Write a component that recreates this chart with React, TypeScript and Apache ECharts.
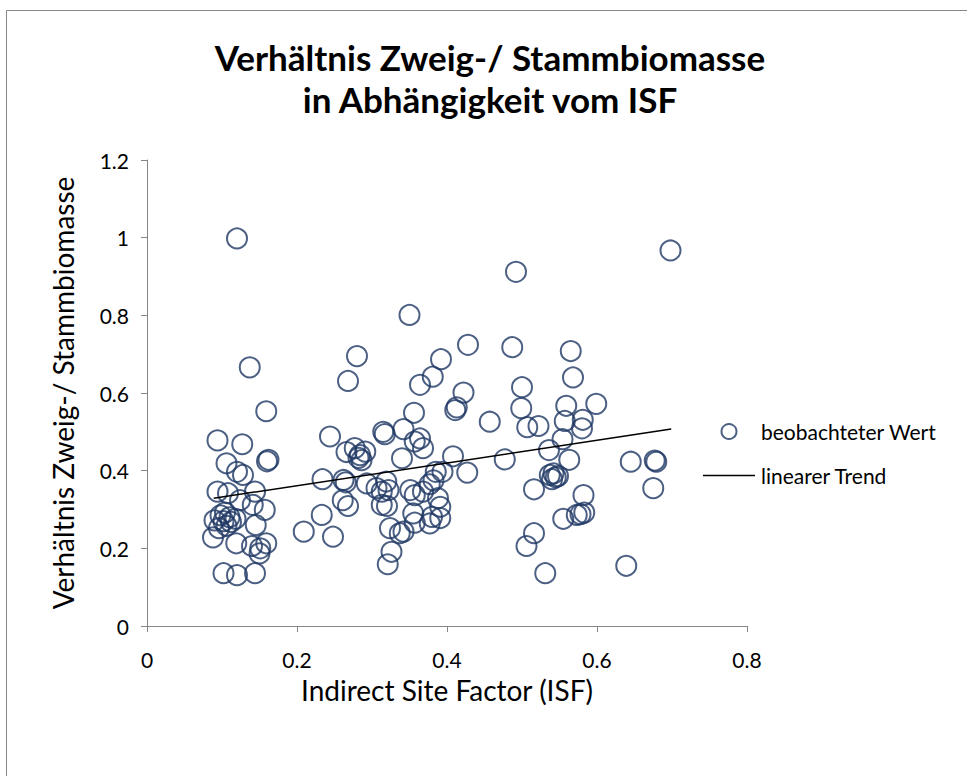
import React, { useEffect, useRef } from "react";
import * as echarts from "echarts";

const chartTitle = "Verhältnis Zweig-/ Stammbiomasse\nin Abhängigkeit vom ISF";
const xAxisName = "Indirect Site Factor (ISF)";
const yAxisName = "Verhältnis Zweig-/ Stammbiomasse";
const seriesNames = ["beobachteter Wert", "linearer Trend"];

const isfValues = [
  0.120, 0.137, 0.159, 0.094, 0.127, 0.106, 0.160, 0.162, 0.120, 0.128,
  0.094, 0.108, 0.144, 0.124, 0.141, 0.157, 0.098, 0.104, 0.110, 0.102,
  0.112, 0.118, 0.106, 0.090, 0.145, 0.088, 0.119, 0.140, 0.151, 0.159,
  0.150, 0.102, 0.120, 0.144, 0.096,
  0.209, 0.233, 0.234, 0.244, 0.248, 0.262, 0.265, 0.261, 0.268, 0.268,
  0.280, 0.266, 0.277, 0.284, 0.291, 0.286, 0.282, 0.293, 0.306, 0.319,
  0.313, 0.322, 0.313, 0.320, 0.315, 0.317, 0.342, 0.324, 0.342, 0.337,
  0.326, 0.321, 0.350, 0.356, 0.364, 0.340, 0.357, 0.364, 0.368, 0.351,
  0.357, 0.368, 0.377, 0.382, 0.385, 0.388, 0.391, 0.355, 0.357, 0.377,
  0.380, 0.381, 0.392, 0.394, 0.391,
  0.408, 0.411, 0.413, 0.422, 0.428, 0.427, 0.457, 0.477, 0.487, 0.492,
  0.499, 0.500, 0.507, 0.522, 0.516, 0.516, 0.506, 0.531, 0.536, 0.537,
  0.542, 0.545, 0.548, 0.540, 0.554, 0.563, 0.557, 0.559, 0.565, 0.568,
  0.555, 0.573, 0.578, 0.583, 0.582, 0.581, 0.580, 0.599, 0.639, 0.645,
  0.677, 0.679, 0.675, 0.698,
];

const ratioValues = [
  0.998, 0.666, 0.553, 0.478, 0.468, 0.419, 0.424, 0.428, 0.397, 0.389,
  0.346, 0.342, 0.346, 0.324, 0.312, 0.299, 0.285, 0.292, 0.280, 0.270,
  0.268, 0.276, 0.258, 0.272, 0.260, 0.228, 0.213, 0.206, 0.200, 0.213,
  0.187, 0.136, 0.131, 0.136, 0.252,
  0.243, 0.286, 0.378, 0.488, 0.230, 0.376, 0.370, 0.324, 0.309, 0.631,
  0.695, 0.448, 0.458, 0.440, 0.449, 0.427, 0.433, 0.367, 0.355, 0.372,
  0.346, 0.350, 0.312, 0.309, 0.500, 0.494, 0.507, 0.252, 0.243, 0.239,
  0.191, 0.159, 0.801, 0.549, 0.621, 0.432, 0.475, 0.483, 0.458, 0.350,
  0.337, 0.346, 0.365, 0.375, 0.397, 0.329, 0.307, 0.290, 0.266, 0.264,
  0.281, 0.642, 0.687, 0.397, 0.278,
  0.437, 0.556, 0.563, 0.601, 0.724, 0.395, 0.526, 0.429, 0.718, 0.912,
  0.561, 0.615, 0.512, 0.515, 0.352, 0.239, 0.206, 0.136, 0.453, 0.389,
  0.393, 0.383, 0.386, 0.378, 0.481, 0.428, 0.528, 0.567, 0.708, 0.640,
  0.276, 0.286, 0.288, 0.292, 0.337, 0.531, 0.509, 0.572, 0.155, 0.423,
  0.426, 0.423, 0.355, 0.967,
];

const trendX = [0.089, 0.699];
const trendY = [0.329, 0.507];

const FONT = "Lato";
const MARKER = "#1F3864";
const AXIS_GRAY = "#868686";

export default function App() {
  const ref = useRef<HTMLDivElement>(null);

  useEffect(() => {
    if (!ref.current) return;
    const chart = echarts.init(ref.current, undefined, { renderer: "svg" });
    const points = isfValues.map((x, i) => [x, ratioValues[i]]);
    const trend = trendX.map((x, i) => [x, trendY[i]]);
    chart.setOption({
      animation: false,
      backgroundColor: "#ffffff",
      textStyle: { fontFamily: FONT },
      title: {
        text: chartTitle,
        left: 490,
        textAlign: "center",
        top: 36,
        padding: 0,
        textStyle: {
          fontFamily: FONT,
          fontWeight: "bold",
          fontSize: 35,
          lineHeight: 42,
          color: "#000",
        },
      },
      graphic: [
        {
          type: "rect",
          shape: { x: 6.5, y: 10.5, width: 2000, height: 2000 },
          style: { fill: "none", stroke: AXIS_GRAY, lineWidth: 1 },
          silent: true,
        },
      ],
      grid: { left: 147, right: 220, top: 160, bottom: 150, containLabel: false },
      legend: {
        orient: "vertical",
        left: 703,
        top: 421,
        padding: 0,
        itemWidth: 52,
        itemHeight: 15,
        itemGap: 23,
        textStyle: { fontFamily: FONT, fontSize: 21, color: "#000", padding: [0, 0, 0, 1] },
        data: [
          {
            name: seriesNames[0],
            icon: "circle",
            itemStyle: { color: "rgba(0,0,0,0)", borderColor: MARKER, borderWidth: 2 },
          },
          {
            name: seriesNames[1],
            icon: "path://M0 0H52V1.5H0Z",
            itemStyle: { color: "#000", borderWidth: 0 },
          },
        ],
      },
      xAxis: {
        type: "value",
        min: 0,
        max: 0.8,
        interval: 0.2,
        name: xAxisName,
        nameLocation: "middle",
        nameGap: 50,
        nameTextStyle: { fontFamily: FONT, fontSize: 28, color: "#000" },
        axisLine: { show: true, onZero: false, lineStyle: { color: AXIS_GRAY, width: 1 } },
        axisTick: { show: true, inside: false, length: 6, lineStyle: { color: AXIS_GRAY } },
        axisLabel: {
          fontFamily: FONT,
          fontSize: 21,
          color: "#000",
          margin: 23,
          formatter: (v: number) => String(Number(v.toFixed(2))),
        },
        splitLine: { show: false },
      },
      yAxis: {
        type: "value",
        min: 0,
        max: 1.2,
        interval: 0.2,
        name: yAxisName,
        nameLocation: "middle",
        nameGap: 70,
        nameTextStyle: { fontFamily: FONT, fontSize: 28, color: "#000" },
        axisLine: { show: true, lineStyle: { color: AXIS_GRAY, width: 1 } },
        axisTick: { show: true, inside: false, length: 6, lineStyle: { color: AXIS_GRAY } },
        axisLabel: {
          fontFamily: FONT,
          fontSize: 21,
          color: "#000",
          margin: 18,
          formatter: (v: number) => String(Number(v.toFixed(2))),
        },
        splitLine: { show: false },
      },
      series: [
        {
          name: seriesNames[0],
          type: "scatter",
          data: points,
          symbol: "circle",
          symbolSize: 20,
          itemStyle: { color: "rgba(0,0,0,0)", borderColor: MARKER, borderWidth: 2 },
          emphasis: { disabled: true },
          z: 2,
        },
        {
          name: seriesNames[1],
          type: "line",
          data: trend,
          symbol: "none",
          showSymbol: false,
          lineStyle: { color: "#000", width: 1.5 },
          itemStyle: { color: "#000" },
          z: 3,
        },
      ],
    });
    return () => chart.dispose();
  }, []);

  return (
    <div
      ref={ref}
      style={{ position: "fixed", left: 0, top: 0, width: 967, height: 776 }}
    />
  );
}
